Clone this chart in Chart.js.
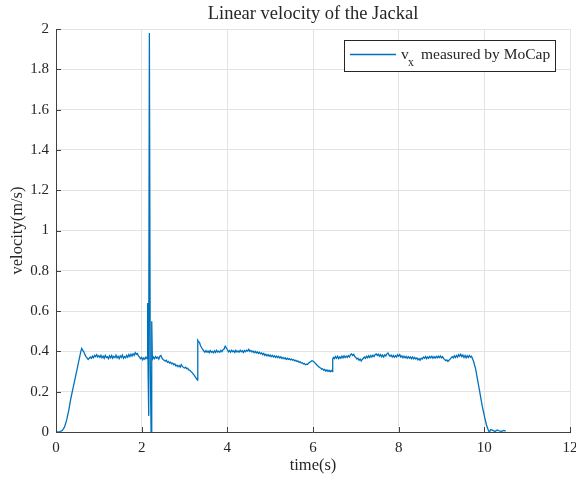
<!DOCTYPE html>
<html>
<head>
<meta charset="utf-8">
<script src="https://cdn.jsdelivr.net/npm/chart.js@4/dist/chart.umd.min.js"></script>
<style>
html,body{margin:0;padding:0;background:#fff;}
#wrap{width:576px;height:483px;}
</style>
</head>
<body>
<div id="wrap"><canvas id="c" width="576" height="483"></canvas></div>
<script>
const chartTitle = "Linear velocity of the Jackal";
const xTitle = "time(s)";
const yTitle = "velocity(m/s)";
const legendMain = "v";
const legendSub = "x";
const legendRest = "measured by MoCap";
const xTicks = [0, 2, 4, 6, 8, 10, 12];
const yTicks = [0, 0.2, 0.4, 0.6, 0.8, 1, 1.2, 1.4, 1.6, 1.8, 2];

// time (s)
const timeS = [
0.00,0.05,0.10,0.15,0.20,0.25,0.30,0.35,0.40,0.45,0.50,0.55,0.58,0.60,
0.625,0.650,0.675,0.700,0.725,0.750,0.775,0.800,0.825,0.850,0.875,0.900,0.925,0.950,0.975,1.000,
1.025,1.050,1.075,1.100,1.125,1.150,1.175,1.200,1.225,1.250,1.275,1.300,1.325,1.350,1.375,1.400,
1.425,1.450,1.475,1.500,1.525,1.550,1.575,1.600,1.625,1.650,1.675,1.700,1.725,1.750,1.775,1.800,
1.825,1.850,1.875,1.900,1.925,1.950,1.975,2.000,2.025,2.050,2.075,2.100,2.125,
2.14,2.15,2.16,2.17,2.18,2.20,2.22,2.23,2.24,2.25,
2.275,2.300,2.325,2.350,2.375,2.400,2.425,2.450,2.475,2.500,
2.525,2.550,2.575,2.600,2.625,2.650,2.675,2.700,2.725,2.750,
2.775,2.800,2.825,2.850,2.875,2.900,2.925,2.950,2.975,3.000,
3.025,3.050,3.075,3.100,3.125,3.150,3.175,3.200,3.225,3.250,
3.275,3.300,3.310,
3.325,3.350,3.375,3.400,3.425,3.450,3.475,3.500,3.525,3.550,
3.575,3.600,3.625,3.650,3.675,3.700,3.725,3.750,3.775,3.800,
3.825,3.850,3.875,3.900,3.925,3.950,3.975,4.000,4.025,4.050,
4.075,4.100,4.125,4.150,4.175,4.200,4.225,4.250,4.275,4.300,
4.325,4.350,4.375,4.400,4.425,4.450,4.475,4.500,4.525,4.550,
4.575,4.600,4.625,4.650,4.675,4.700,4.725,4.750,4.775,4.800,
4.825,4.850,4.875,4.900,4.925,4.950,4.975,5.000,5.025,5.050,
5.075,5.100,5.125,5.150,5.175,5.200,5.225,5.250,5.275,5.300,
5.325,5.350,5.375,5.400,5.425,5.450,5.475,5.500,5.525,5.550,
5.575,5.600,5.625,5.650,5.675,5.700,5.725,5.750,5.775,5.800,
5.825,5.850,5.875,5.900,5.925,5.950,5.975,6.000,6.025,6.050,
6.075,6.100,6.125,6.150,6.175,6.200,6.225,6.250,6.275,6.300,
6.325,6.350,6.375,6.400,6.425,6.450,6.460,
6.475,6.500,6.525,6.550,6.575,6.600,6.625,6.650,6.675,6.700,
6.725,6.750,6.775,6.800,6.825,6.850,6.875,6.900,6.925,6.950,
6.975,7.000,7.025,7.050,7.075,7.100,7.125,7.150,7.175,7.200,
7.225,7.250,7.275,7.300,7.325,7.350,7.375,7.400,7.425,7.450,
7.475,7.500,7.525,7.550,7.575,7.600,7.625,7.650,7.675,7.700,
7.725,7.750,7.775,7.800,7.825,7.850,7.875,7.900,7.925,7.950,
7.975,8.000,8.025,8.050,8.075,8.100,8.125,8.150,8.175,8.200,
8.225,8.250,8.275,8.300,8.325,8.350,8.375,8.400,8.425,8.450,
8.475,8.500,8.525,8.550,8.575,8.600,8.625,8.650,8.675,8.700,
8.725,8.750,8.775,8.800,8.825,8.850,8.875,8.900,8.925,8.950,
8.975,9.000,9.025,9.050,9.075,9.100,9.125,9.150,9.175,9.200,
9.225,9.250,9.275,9.300,9.325,9.350,9.375,9.400,9.425,9.450,
9.475,9.500,9.525,9.550,9.575,9.600,9.625,9.650,9.675,9.700,
9.72,9.75,9.80,9.85,9.90,9.95,10.00,10.05,10.10,10.12,
10.15,10.20,10.25,10.30,10.35,10.40,10.45,10.50
];
// v_x (m/s), same order as timeS
const vx = [
0.000,0.000,0.002,0.008,0.025,0.060,0.110,0.170,0.220,0.270,0.320,0.370,0.400,0.415,
0.405,0.398,0.384,0.374,0.368,0.360,0.366,0.372,0.366,0.376,0.369,0.380,0.374,0.384,0.372,0.379,
0.370,0.381,0.368,0.377,0.366,0.380,0.370,0.374,0.364,0.378,0.368,0.380,0.366,0.375,0.369,0.381,
0.368,0.376,0.364,0.378,0.370,0.382,0.366,0.374,0.368,0.380,0.371,0.384,0.374,0.386,0.377,0.388,
0.380,0.394,0.386,0.390,0.378,0.372,0.364,0.370,0.358,0.368,0.361,0.372,0.364,
0.640,0.300,0.080,0.400,1.980,0.360,0.000,0.380,0.550,0.360,
0.372,0.364,0.374,0.366,0.372,0.362,0.376,0.380,0.366,0.360,
0.356,0.352,0.356,0.346,0.350,0.342,0.346,0.338,0.342,0.334,
0.338,0.328,0.332,0.324,0.330,0.322,0.334,0.326,0.320,0.318,
0.322,0.314,0.316,0.308,0.306,0.300,0.296,0.288,0.282,0.274,
0.266,0.258,0.455,
0.450,0.444,0.428,0.418,0.410,0.402,0.396,0.404,0.396,0.402,
0.394,0.404,0.396,0.400,0.393,0.403,0.395,0.405,0.397,0.401,
0.396,0.405,0.399,0.408,0.412,0.426,0.418,0.408,0.398,0.404,
0.396,0.406,0.398,0.403,0.395,0.405,0.397,0.402,0.396,0.406,
0.398,0.403,0.395,0.404,0.398,0.406,0.402,0.410,0.400,0.405,
0.397,0.402,0.394,0.400,0.392,0.398,0.390,0.396,0.388,0.392,
0.384,0.390,0.380,0.386,0.378,0.384,0.376,0.382,0.374,0.380,
0.372,0.378,0.370,0.377,0.369,0.375,0.367,0.373,0.365,0.370,
0.363,0.368,0.360,0.366,0.360,0.364,0.358,0.362,0.356,0.359,
0.353,0.356,0.350,0.352,0.346,0.348,0.342,0.344,0.338,0.340,
0.334,0.337,0.336,0.342,0.346,0.350,0.354,0.352,0.348,0.342,
0.336,0.330,0.326,0.320,0.318,0.312,0.314,0.306,0.310,0.302,
0.308,0.300,0.306,0.299,0.305,0.300,0.362,
0.370,0.364,0.374,0.366,0.376,0.364,0.373,0.366,0.377,0.368,
0.378,0.369,0.377,0.370,0.379,0.372,0.384,0.388,0.380,0.385,
0.374,0.370,0.362,0.366,0.356,0.362,0.352,0.360,0.366,0.372,
0.366,0.376,0.368,0.378,0.370,0.380,0.372,0.381,0.374,0.384,
0.388,0.380,0.386,0.376,0.384,0.374,0.382,0.372,0.383,0.377,
0.388,0.392,0.382,0.376,0.382,0.372,0.380,0.371,0.379,0.372,
0.383,0.376,0.384,0.372,0.378,0.368,0.376,0.368,0.375,0.366,
0.374,0.366,0.373,0.364,0.372,0.363,0.370,0.362,0.368,0.358,
0.364,0.356,0.366,0.362,0.372,0.366,0.374,0.364,0.373,0.366,
0.375,0.368,0.376,0.366,0.374,0.367,0.375,0.368,0.376,0.369,
0.377,0.368,0.374,0.364,0.360,0.354,0.358,0.350,0.356,0.362,
0.368,0.374,0.368,0.378,0.370,0.380,0.372,0.384,0.376,0.386,
0.374,0.382,0.370,0.380,0.368,0.378,0.370,0.380,0.372,0.376,
0.366,0.350,0.310,0.250,0.190,0.130,0.080,0.035,0.005,0.000,
0.012,0.008,0.002,0.010,0.006,0.003,0.008,0.004
];

const serif = "'Liberation Serif', 'Times New Roman', serif";
const axisColor = '#404040';
const textColor = '#262626';
const lineColor = '#0072BD';

const decor = {
  id: 'decor',
  afterDraw(chart) {
    const ctx = chart.ctx;
    const a = chart.chartArea;
    const xs = chart.scales.x, ys = chart.scales.y;
    ctx.save();
    ctx.strokeStyle = axisColor;
    ctx.lineWidth = 1;
    ctx.beginPath();
    xTicks.forEach(t => {
      const px = Math.round(xs.getPixelForValue(t)) + 0.5;
      ctx.moveTo(px, a.bottom); ctx.lineTo(px, a.bottom - 5);
    });
    yTicks.forEach(t => {
      const py = Math.round(ys.getPixelForValue(t)) + 0.5;
      ctx.moveTo(a.left, py); ctx.lineTo(a.left + 5, py);
    });
    ctx.stroke();
    ctx.fillStyle = textColor;
    ctx.font = "18.5px " + serif;
    ctx.textAlign = 'center';
    ctx.textBaseline = 'middle';
    ctx.fillText(chartTitle, (a.left + a.right) / 2, 14);
    const bx = 344.5, by = 40.5, bw = 211, bh = 31;
    ctx.fillStyle = '#ffffff';
    ctx.fillRect(bx, by, bw, bh);
    ctx.strokeStyle = textColor;
    ctx.lineWidth = 1;
    ctx.strokeRect(bx, by, bw, bh);
    ctx.strokeStyle = lineColor;
    ctx.lineWidth = 1.3;
    ctx.beginPath();
    ctx.moveTo(350, 54.5); ctx.lineTo(396, 54.5);
    ctx.stroke();
    ctx.fillStyle = textColor;
    ctx.textAlign = 'left';
    ctx.textBaseline = 'alphabetic';
    ctx.font = "15.5px " + serif;
    ctx.fillText(legendMain, 401, 59);
    ctx.font = "11.5px " + serif;
    ctx.fillText(legendSub, 408, 66);
    ctx.font = "15.5px " + serif;
    ctx.fillText(legendRest, 421, 59);
    ctx.restore();
  }
};

new Chart(document.getElementById('c'), {
  type: 'line',
  data: {
    datasets: [{
      label: legendMain + legendSub + ' ' + legendRest,
      data: timeS.map((t, i) => ({x: t, y: vx[i]})),
      borderColor: lineColor,
      borderWidth: 1.3,
      pointRadius: 0,
      tension: 0,
      fill: false
    }]
  },
  options: {
    responsive: false,
    animation: false,
    layout: {padding: {top: 29, right: 6, left: 0, bottom: 0}},
    plugins: {legend: {display: false}, title: {display: false}, tooltip: {enabled: false}},
    scales: {
      x: {
        type: 'linear', min: 0, max: 12,
        afterFit(s) { s.height = 51; s.paddingLeft = 0; s.paddingRight = 0; },
        afterBuildTicks(s) { s.ticks = xTicks.map(v => ({value: v})); },
        grid: {color: '#e3e3e3', drawTicks: false},
        border: {display: true, color: axisColor, width: 1},
        ticks: {color: textColor, font: {family: serif, size: 15}, padding: 7, maxRotation: 0,
                callback: v => String(v)},
        title: {display: true, text: xTitle, color: textColor, font: {family: serif, size: 16.5},
                padding: {top: 0, bottom: 7}}
      },
      y: {
        type: 'linear', min: 0, max: 2,
        afterFit(s) { s.width = 56; s.paddingTop = 0; s.paddingBottom = 0; },
        afterBuildTicks(s) { s.ticks = yTicks.map(v => ({value: v})); },
        grid: {color: '#e3e3e3', drawTicks: false},
        border: {display: true, color: axisColor, width: 1},
        ticks: {color: textColor, font: {family: serif, size: 15}, padding: 7,
                callback: v => String(+(+v).toFixed(1))},
        title: {display: true, text: yTitle, color: textColor, font: {family: serif, size: 16.5},
                padding: {top: 8, bottom: 0}}
      }
    }
  },
  plugins: [decor]
});
</script>
</body>
</html>
